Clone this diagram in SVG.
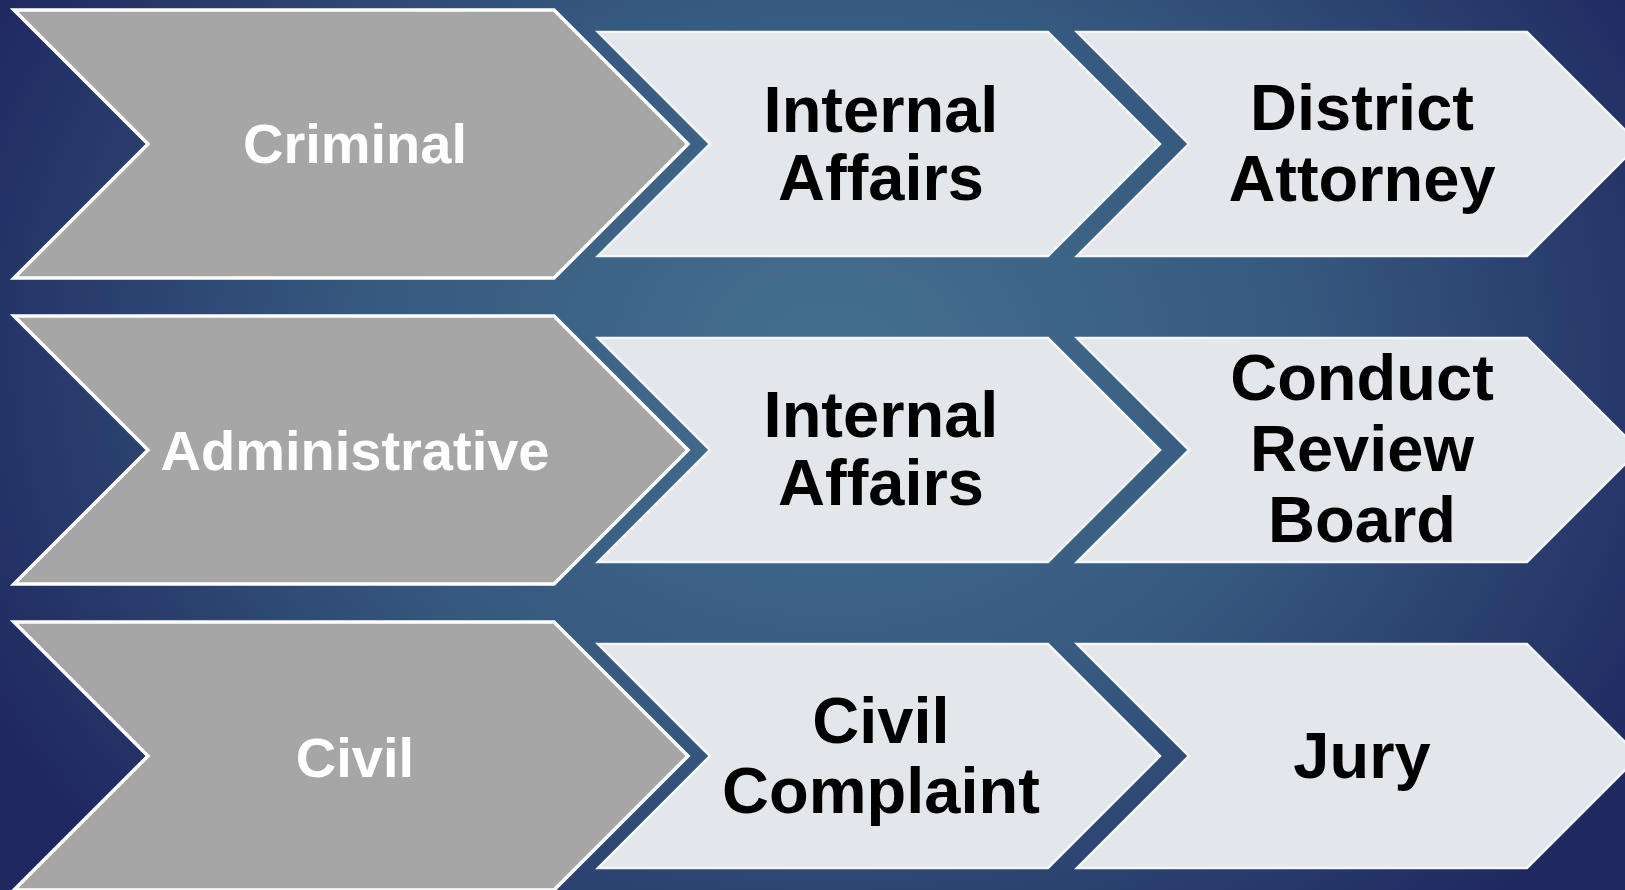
<svg xmlns="http://www.w3.org/2000/svg" width="1625" height="890" viewBox="0 0 1625 890">
  <defs>
    <radialGradient id="bg" gradientUnits="userSpaceOnUse" cx="830" cy="360" r="950" gradientTransform="translate(830 360) scale(1 0.8) translate(-830 -360)">
      <stop offset="0" stop-color="#45708f"/>
      <stop offset="0.5" stop-color="#36597f"/>
      <stop offset="1" stop-color="#1f2860"/>
    </radialGradient>
    <!-- chevron outlines, centred vertically on y=0 -->
    <polygon id="gray-chev" points="14,-134 554,-134 688,0 554,134 14,134 148,0"/>
    <polygon id="light-chev" points="0,-112 450,-112 562,0 450,112 0,112 112,0"/>
  </defs>
  <style>
    .head { fill: #a6a6a6; stroke: #ffffff; stroke-width: 3.5; stroke-linejoin: miter; }
    .step { fill: #e3e6eb; stroke: #f5f6f8; stroke-width: 2.5; stroke-linejoin: miter; }
    .hl { font-family: "Liberation Sans", Arial, sans-serif; font-weight: bold; font-size: 56px; fill: #ffffff; text-anchor: middle; }
    .sl { font-family: "Liberation Sans", Arial, sans-serif; font-weight: bold; font-size: 65px; fill: #000000; text-anchor: middle; }
  </style>

  <rect x="0" y="0" width="1625" height="890" fill="url(#bg)"/>

  <!-- Row 1: Criminal -->
  <g id="criminal" transform="translate(0 144)">
    <use href="#gray-chev" class="head"/>
    <text class="hl" x="355" y="19">Criminal</text>
  </g>
  <g id="internal-affairs-1" transform="translate(598 144)">
    <use href="#light-chev" class="step"/>
    <text class="sl" x="283" y="-12">Internal</text>
    <text class="sl" x="283" y="56">Affairs</text>
  </g>
  <g id="district-attorney" transform="translate(1077 144)">
    <use href="#light-chev" class="step"/>
    <text class="sl" x="285" y="-14">District</text>
    <text class="sl" x="285" y="57">Attorney</text>
  </g>

  <!-- Row 2: Administrative -->
  <g id="administrative" transform="translate(0 450)">
    <use href="#gray-chev" class="head"/>
    <text class="hl" x="355" y="20">Administrative</text>
  </g>
  <g id="internal-affairs-2" transform="translate(598 450)">
    <use href="#light-chev" class="step"/>
    <text class="sl" x="283" y="-13">Internal</text>
    <text class="sl" x="283" y="55">Affairs</text>
  </g>
  <g id="conduct-review-board" transform="translate(1077 450)">
    <use href="#light-chev" class="step"/>
    <text class="sl" x="285" y="-50">Conduct</text>
    <text class="sl" x="285" y="21">Review</text>
    <text class="sl" x="285" y="92">Board</text>
  </g>

  <!-- Row 3: Civil -->
  <g id="civil" transform="translate(0 756)">
    <use href="#gray-chev" class="head"/>
    <text class="hl" x="355" y="21">Civil</text>
  </g>
  <g id="civil-complaint" transform="translate(598 756)">
    <use href="#light-chev" class="step"/>
    <text class="sl" x="283" y="-13">Civil</text>
    <text class="sl" x="283" y="57">Complaint</text>
  </g>
  <g id="jury" transform="translate(1077 756)">
    <use href="#light-chev" class="step"/>
    <text class="sl" x="285" y="22">Jury</text>
  </g>
</svg>
